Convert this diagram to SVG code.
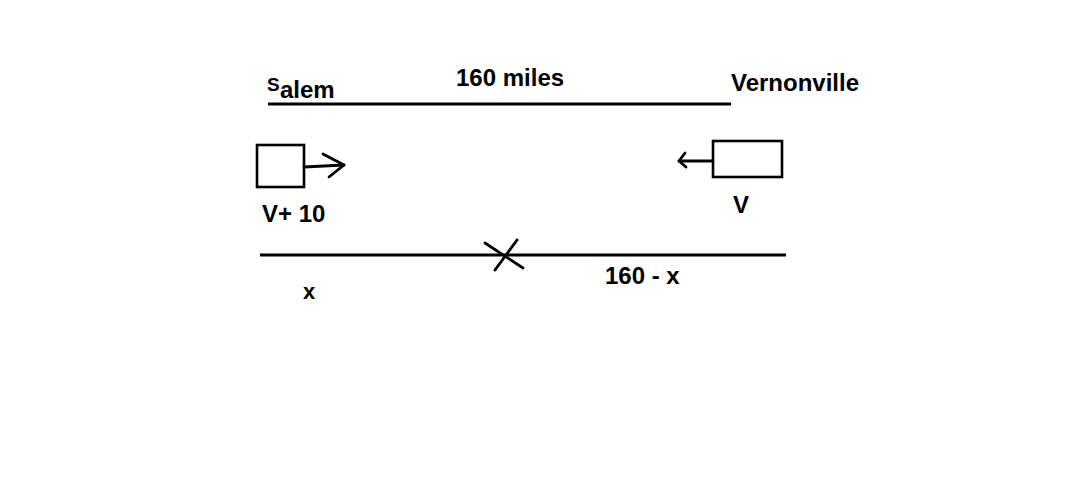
<svg xmlns="http://www.w3.org/2000/svg" width="1069" height="479" viewBox="0 0 1069 479">
<style>
.t{font-family:"Liberation Sans",Arial,sans-serif;font-weight:bold;font-size:24px;fill:#000}
.ln{stroke:#000;stroke-width:3.2;fill:none;stroke-linecap:butt}
.bx{stroke:#000;stroke-width:2.6;fill:#fff}
.ar{stroke:#000;stroke-width:2.8;fill:none;stroke-linecap:round;stroke-linejoin:round}
</style>
<rect width="1069" height="479" fill="#fff"/>
<g id="salem">
<text class="t" x="267" y="91" style="font-size:19px">S</text>
<text class="t" x="280" y="98">alem</text>
</g>
<g id="vernonville">
<text class="t" x="731" y="91">Vernonville</text>
</g>
<g id="distance-label">
<text class="t" x="456" y="86">160 miles</text>
</g>
<g id="car-left">
<rect class="bx" x="257" y="145" width="47" height="42"/>
<text class="t" x="262" y="222">V+ 10</text>
</g>
<g id="car-right">
<rect class="bx" x="713" y="141" width="69" height="36"/>
<text class="t" x="733" y="213">V</text>
</g>
<g id="labels-bottom">
<text class="t" x="303" y="299" style="font-size:22px">x</text>
<text class="t" x="605" y="284">160 - x</text>
</g>
<g id="connectors">
<line class="ln" x1="268" y1="104" x2="731" y2="104"/>
<line class="ln" x1="260" y1="255" x2="786" y2="255"/>
<line class="ar" x1="485" y1="243" x2="523" y2="268"/>
<line class="ar" x1="517" y1="240" x2="495" y2="270"/>
<line class="ar" x1="304" y1="167" x2="344" y2="165"/>
<polyline class="ar" points="323,154 344,165 329,177"/>
<line class="ar" x1="713" y1="161" x2="679" y2="161"/>
<polyline class="ar" points="685,153 679,161 686,167"/>
</g>
</svg>
